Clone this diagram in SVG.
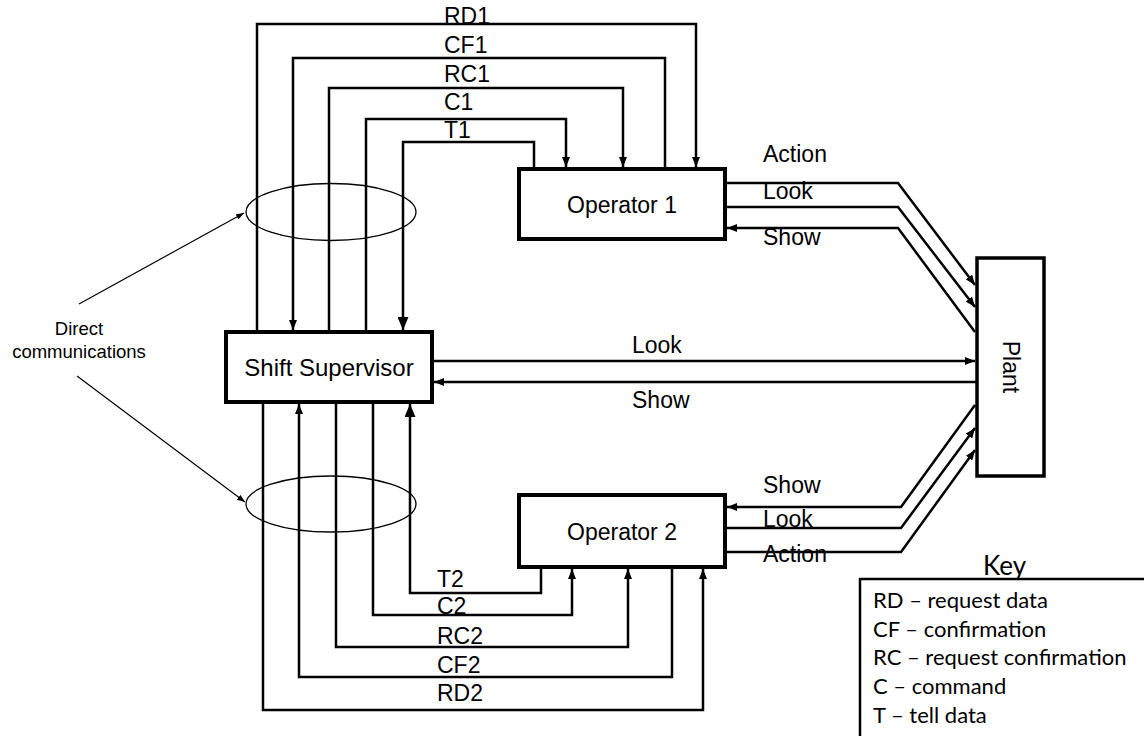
<svg xmlns="http://www.w3.org/2000/svg" width="1144" height="736" viewBox="0 0 1144 736">
<style>
.box{fill:#fff;stroke:#000;stroke-width:4}
.c{fill:none;stroke:#000;stroke-width:2.5}
.thin{fill:none;stroke:#000;stroke-width:1.2}
.lbl{font-family:"Liberation Sans",Arial,sans-serif;font-size:23px;fill:#000}
.dc{font-family:"Liberation Sans",Arial,sans-serif;font-size:18.5px;fill:#000;text-anchor:middle}
.key{font-family:Lato,"Open Sans",sans-serif;font-size:22px;fill:#000}
</style>
<defs>
<marker id="a" markerUnits="userSpaceOnUse" markerWidth="10" markerHeight="8" refX="10" refY="4" orient="auto"><path d="M0,0 L10,4 L0,8 z" fill="#000"/></marker>
<marker id="b" markerUnits="userSpaceOnUse" markerWidth="13" markerHeight="11" refX="13" refY="5.5" orient="auto"><path d="M0,0 L13,5.5 L0,11 z" fill="#000"/></marker>
<marker id="s" markerUnits="userSpaceOnUse" markerWidth="8" markerHeight="6" refX="8" refY="3" orient="auto"><path d="M0,0 L8,3 L0,6 z" fill="#000"/></marker>
</defs>
<rect width="1144" height="736" fill="#fff"/>
<g id="connectors">
<path class="c" d="M257,332 V24 H696 V167" marker-end="url(#a)"/>
<path class="c" d="M665,169 V58 H293 V330" marker-end="url(#a)"/>
<path class="c" d="M329,332 V88 H623 V167" marker-end="url(#a)"/>
<path class="c" d="M366,332 V119 H566 V167" marker-end="url(#a)"/>
<path class="c" d="M534,169 V142 H403 V330" marker-end="url(#b)"/>
<path class="c" d="M541,567 V593 H410 V404" marker-end="url(#b)"/>
<path class="c" d="M373,402 V615 H572 V569" marker-end="url(#a)"/>
<path class="c" d="M336,402 V647 H628 V569" marker-end="url(#a)"/>
<path class="c" d="M672,567 V677 H299 V404" marker-end="url(#a)"/>
<path class="c" d="M263,402 V710 H703 V569" marker-end="url(#a)"/>
<path class="c" d="M725,183 H898 L975,285" marker-end="url(#a)"/>
<path class="c" d="M725,207 H898 L975,307" marker-end="url(#a)"/>
<path class="c" d="M975,332 L898,228 H727" marker-end="url(#a)"/>
<path class="c" d="M432,361 H975" marker-end="url(#a)"/>
<path class="c" d="M977,382 H434" marker-end="url(#a)"/>
<path class="c" d="M975,405 L901,507 H727" marker-end="url(#a)"/>
<path class="c" d="M725,528 H901 L975,428" marker-end="url(#a)"/>
<path class="c" d="M725,552 H901 L975,450" marker-end="url(#a)"/>
<path class="thin" d="M79,304 L244,213" marker-end="url(#s)"/>
<path class="thin" d="M77,376 L245,502" marker-end="url(#s)"/>
</g>
<g id="labels" class="lbl">
<text x="444" y="24">RD1</text>
<text x="444" y="53">CF1</text>
<text x="444" y="82">RC1</text>
<text x="444" y="110">C1</text>
<text x="444" y="138">T1</text>
<text x="437" y="587">T2</text>
<text x="437" y="614">C2</text>
<text x="437" y="644">RC2</text>
<text x="437" y="673">CF2</text>
<text x="437" y="701">RD2</text>
<text x="763" y="162">Action</text>
<text x="763" y="199">Look</text>
<text x="763" y="245">Show</text>
<text x="763" y="493">Show</text>
<text x="763" y="527">Look</text>
<text x="763" y="562">Action</text>
<text x="632" y="353">Look</text>
<text x="632" y="408">Show</text>
</g>
<g id="ellipses">
<ellipse cx="331" cy="212" rx="85" ry="28.5" fill="none" stroke="#000" stroke-width="1.3"/>
<ellipse cx="331" cy="504" rx="85" ry="28" fill="none" stroke="#000" stroke-width="1.3"/>
</g>
<g id="direct-communications">
<text class="dc" x="79" y="335">Direct</text>
<text class="dc" x="79" y="358">communications</text>
</g>
<g id="operator1">
<rect class="box" x="519" y="169" width="206" height="70"/>
<text class="lbl" x="622" y="213" text-anchor="middle">Operator 1</text>
</g>
<g id="operator2">
<rect class="box" x="519" y="495" width="206" height="72"/>
<text class="lbl" x="622" y="540" text-anchor="middle">Operator 2</text>
</g>
<g id="shift-supervisor">
<rect class="box" x="226" y="332" width="206" height="70"/>
<text class="lbl" x="329" y="376" text-anchor="middle" style="font-size:24px">Shift Supervisor</text>
</g>
<g id="plant">
<rect class="box" x="977" y="258" width="67" height="218" style="stroke-width:3.5"/>
<text class="lbl" transform="translate(1003,367) rotate(90)" text-anchor="middle">Plant</text>
</g>
<g id="key">
<text class="key" x="983" y="575" style="font-size:26px">Key</text>
<path d="M860,736 V579 H1144" fill="none" stroke="#000" stroke-width="2.5"/>
<text class="key" x="873" y="608">RD – request data</text>
<text class="key" x="873" y="637">CF – confirmation</text>
<text class="key" x="873" y="665">RC – request confirmation</text>
<text class="key" x="873" y="694">C – command</text>
<text class="key" x="873" y="723">T – tell data</text>
</g>
</svg>
